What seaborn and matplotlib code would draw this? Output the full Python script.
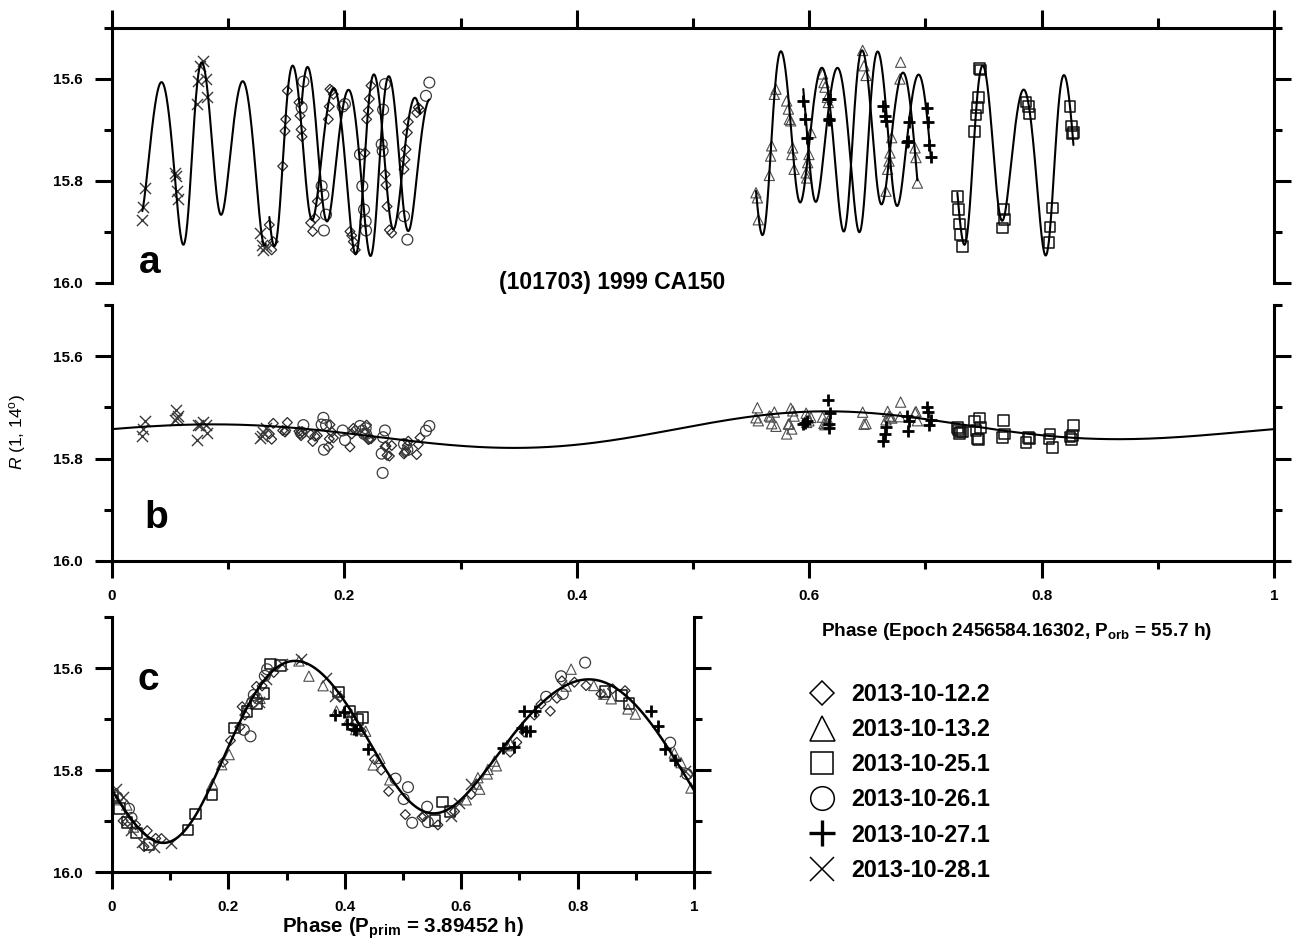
import numpy as np
import matplotlib
matplotlib.use("Agg")
import matplotlib.pyplot as plt
from matplotlib.lines import Line2D
import seaborn as sns

sns.set_theme(style="ticks")
plt.rcParams["font.family"] = ["Liberation Sans", "DejaVu Sans"]
plt.rcParams.update({
    "mathtext.fontset": "custom",
    "mathtext.rm": "Liberation Sans",
    "mathtext.it": "Liberation Sans:italic",
    "mathtext.bf": "Liberation Sans:bold",
    "axes.linewidth": 2.2,
    "axes.edgecolor": "black",
    "axes.labelcolor": "black",
    "text.color": "black",
    "xtick.color": "black",
    "ytick.color": "black",
    "xtick.labelcolor": "black",
    "ytick.labelcolor": "black",
})

# ---------------------------------------------------------------- constants
P_ORB = 55.7        # orbital period, h
P_PRIM = 3.89452    # primary rotation period, h
REF_MAG = 15.752    # level the two components are reduced to

nights = ["2013-10-12.2", "2013-10-13.2", "2013-10-25.1",
          "2013-10-26.1", "2013-10-27.1", "2013-10-28.1"]

# rotation phase of each night at orbital phase 0
rot_offset = [0.09, 0.082, 0.597, 0.907, 0.89, 0.21]

# ---------------------------------------------------------------- observations
# orbital phase and R(1, 14 deg) magnitude of every measurement, per night
phase_1012 = [0.1354, 0.1374, 0.1388, 0.1469, 0.1489, 0.1495, 0.1509, 0.1609, 0.1618, 0.1627,
              0.1635, 0.1710, 0.1727, 0.1747, 0.1767, 0.1862, 0.1870, 0.1876, 0.1891, 0.1905,
              0.2048, 0.2063, 0.2077, 0.2094, 0.2177, 0.2191, 0.2206, 0.2215, 0.2229, 0.2350,
              0.2358, 0.2367, 0.2387, 0.2407, 0.2513, 0.2521, 0.2530, 0.2542, 0.2550, 0.2622,
              0.2636, 0.2651]
mag_1012 = [15.886, 15.935, 15.919, 15.771, 15.702, 15.679, 15.623, 15.646, 15.672, 15.699,
            15.713, 15.882, 15.899, 15.873, 15.840, 15.679, 15.654, 15.620, 15.623, 15.630,
            15.899, 15.907, 15.919, 15.935, 15.745, 15.679, 15.662, 15.639, 15.613, 15.787,
            15.808, 15.850, 15.896, 15.902, 15.777, 15.758, 15.738, 15.705, 15.684, 15.666,
            15.656, 15.660]

phase_1013 = [0.5542, 0.5554, 0.5562, 0.5657, 0.5668, 0.5677, 0.5700, 0.5714, 0.5806, 0.5821,
              0.5829, 0.5841, 0.5858, 0.5850, 0.5870, 0.5974, 0.5978, 0.5987, 0.5998, 0.6015,
              0.6115, 0.6127, 0.6136, 0.6156, 0.6165, 0.6460, 0.6472, 0.6489, 0.6661, 0.6675,
              0.6687, 0.6695, 0.6710, 0.6787, 0.6781, 0.6911, 0.6919, 0.6931]
mag_1013 = [15.823, 15.833, 15.876, 15.789, 15.751, 15.731, 15.630, 15.620, 15.643, 15.659,
            15.679, 15.682, 15.735, 15.748, 15.777, 15.784, 15.794, 15.764, 15.748, 15.705,
            15.590, 15.607, 15.616, 15.636, 15.646, 15.544, 15.574, 15.593, 15.820, 15.777,
            15.761, 15.745, 15.715, 15.567, 15.600, 15.735, 15.754, 15.804]

phase_1025 = [0.7275, 0.7283, 0.7292, 0.7303, 0.7318, 0.7421, 0.7436, 0.7447, 0.7456, 0.7464,
              0.7476, 0.7662, 0.7671, 0.7680, 0.7866, 0.7886, 0.7895, 0.8064, 0.8073, 0.8093,
              0.8245, 0.8259, 0.8268, 0.8274]
mag_1025 = [15.830, 15.856, 15.884, 15.905, 15.928, 15.703, 15.671, 15.656, 15.636, 15.579,
            15.582, 15.892, 15.856, 15.875, 15.645, 15.654, 15.669, 15.921, 15.890, 15.853,
            15.654, 15.692, 15.708, 15.705]

phase_1026 = [0.1632, 0.1647, 0.1804, 0.1819, 0.1824, 0.1842, 0.1985, 0.2005, 0.2134, 0.2154,
              0.2169, 0.2183, 0.2186, 0.2321, 0.2329, 0.2333, 0.2349, 0.2513, 0.2542, 0.2702,
              0.2731]
mag_1026 = [15.656, 15.605, 15.810, 15.827, 15.897, 15.866, 15.654, 15.649, 15.748, 15.810,
            15.856, 15.879, 15.897, 15.728, 15.741, 15.660, 15.610, 15.869, 15.915, 15.633,
            15.607]

phase_1027 = [0.5949, 0.5964, 0.5978, 0.6165, 0.6179, 0.6173, 0.6168, 0.6638, 0.6652, 0.6661,
              0.6839, 0.6853, 0.6862, 0.7017, 0.7026, 0.7034, 0.7046]
mag_1027 = [15.643, 15.679, 15.715, 15.639, 15.639, 15.679, 15.680, 15.653, 15.672, 15.682,
            15.723, 15.722, 15.685, 15.656, 15.685, 15.730, 15.752]

phase_1028 = [0.0261, 0.0270, 0.0284, 0.0542, 0.0551, 0.0557, 0.0565, 0.0729, 0.0737, 0.0757,
              0.0780, 0.0809, 0.0820, 0.1274, 0.1288, 0.1302, 0.1323]
mag_1028 = [15.876, 15.851, 15.813, 15.784, 15.790, 15.820, 15.836, 15.649, 15.603, 15.574,
            15.564, 15.600, 15.636, 15.902, 15.925, 15.935, 15.928]

night_phase = [phase_1012, phase_1013, phase_1025, phase_1026, phase_1027, phase_1028]
night_mag = [mag_1012, mag_1013, mag_1025, mag_1026, mag_1027, mag_1028]

# ---------------------------------------------------------------- model curves
# primary rotational lightcurve, sampled over one rotation
rot_curve_phase = [0.002, 0.019, 0.037, 0.077, 0.117, 0.146, 0.163, 0.186, 0.208, 0.226,
                   0.243, 0.266, 0.289, 0.311, 0.335, 0.369, 0.403, 0.438, 0.478, 0.512,
                   0.545, 0.581, 0.615, 0.649, 0.684, 0.718, 0.753, 0.787, 0.804, 0.833,
                   0.867, 0.902, 0.936, 0.964, 0.996]
rot_curve_mag = [15.846, 15.875, 15.905, 15.935, 15.921, 15.892, 15.852, 15.787, 15.735, 15.689,
                 15.656, 15.617, 15.594, 15.586, 15.592, 15.620, 15.676, 15.731, 15.813, 15.859,
                 15.895, 15.872, 15.833, 15.790, 15.745, 15.695, 15.650, 15.627, 15.622, 15.627,
                 15.646, 15.676, 15.718, 15.767, 15.838]

# orbital lightcurve, sampled over one orbit
orb_curve_phase = [0.0, 0.076, 0.133, 0.19, 0.248, 0.30, 0.33, 0.40, 0.45, 0.50,
                   0.523, 0.56, 0.638, 0.695, 0.753, 0.81, 0.85, 0.90]
orb_curve_mag = [15.743, 15.732, 15.735, 15.750, 15.763, 15.775, 15.777, 15.772, 15.760, 15.737,
                 15.727, 15.712, 15.710, 15.722, 15.742, 15.754, 15.761, 15.762]


def fourier_basis(x, order):
    x = np.asarray(x, float)
    cols = [np.ones_like(x)]
    for k in range(1, order + 1):
        cols += [np.cos(2 * np.pi * k * x), np.sin(2 * np.pi * k * x)]
    return np.column_stack(cols)


def fourier_fit(x, y, order):
    coef, *_ = np.linalg.lstsq(fourier_basis(x, order), np.asarray(y, float), rcond=None)
    return lambda t: fourier_basis(t, order) @ coef


rot_model = fourier_fit(rot_curve_phase, rot_curve_mag, 5)
orb_model = fourier_fit(orb_curve_phase, orb_curve_mag, 3)
ratio = P_ORB / P_PRIM

# ---------------------------------------------------------------- styles
marker_kind = ["D", "^", "s", "o", "+", "x"]
marker_size = [5.0, 7.4, 7.6, 7.8, 9.0, 8.0]          # pt
marker_color = ["#2b2b2b", "#4d4d4d", "#111111", "#3a3a3a", "#000000", "#3a3a3a"]
marker_lw = [0.9, 0.8, 1.1, 0.9, 2.0, 1.0]
legend_size = [11.8, 18.0, 16.5, 17.0, 18.5, 17.0]

W, H = 1296, 943
fig = plt.figure(figsize=(W / 100, H / 100), dpi=100)
ax_a = fig.add_axes([112 / W, 1 - 283 / H, 1162 / W, 255 / H])
ax_b = fig.add_axes([112 / W, 1 - 561 / H, 1162 / W, 256 / H])
ax_c = fig.add_axes([112 / W, 1 - 872 / H, 582 / W, 255 / H])


def draw_points(ax, x, y, i):
    kw = dict(x=np.asarray(x), y=np.asarray(y), marker=marker_kind[i],
              s=marker_size[i] ** 2, ax=ax, legend=False, zorder=2)
    if marker_kind[i] in ("+", "x"):
        sns.scatterplot(color=marker_color[i], linewidth=marker_lw[i], **kw)
    else:
        sns.scatterplot(facecolor="none", edgecolor=marker_color[i],
                        linewidth=marker_lw[i], **kw)


for i in range(len(nights)):
    phi = np.asarray(night_phase[i])
    mag = np.asarray(night_mag[i])
    psi = (phi * ratio + rot_offset[i]) % 1.0

    # panel a: observed magnitudes with combined model for the night
    draw_points(ax_a, phi, mag, i)
    grid = np.linspace(phi.min(), phi.max(), 500)
    combined = orb_model(grid) + rot_model((grid * ratio + rot_offset[i]) % 1.0) - REF_MAG
    sns.lineplot(x=grid, y=combined, ax=ax_a, color="black", linewidth=1.5,
                 estimator=None, sort=False, zorder=3)

    # panel b: rotational component removed
    draw_points(ax_b, phi, mag - rot_model(psi) + REF_MAG, i)

    # panel c: orbital component removed, folded with the rotation period
    draw_points(ax_c, psi, mag - orb_model(phi) + REF_MAG, i)

orb_grid = np.linspace(0, 1, 400)
sns.lineplot(x=orb_grid, y=orb_model(orb_grid), ax=ax_b, color="black", linewidth=1.5,
             estimator=None, sort=False, zorder=3)
rot_grid = np.linspace(0, 1, 400)
sns.lineplot(x=rot_grid, y=rot_model(rot_grid), ax=ax_c, color="black", linewidth=1.8,
             estimator=None, sort=False, zorder=3)

# ---------------------------------------------------------------- axes
y_major = [15.6, 15.8, 16.0]
y_minor = [15.5, 15.7, 15.9]
x_major = [0, 0.2, 0.4, 0.6, 0.8, 1.0]
x_minor = [0.1, 0.3, 0.5, 0.7, 0.9]
x_labels = ["0", "0.2", "0.4", "0.6", "0.8", "1"]

for ax in (ax_a, ax_b, ax_c):
    ax.set_xlim(0, 1)
    ax.set_ylim(16.0, 15.5)
    ax.set_xlabel("")
    ax.set_ylabel("")
    ax.set_yticks(y_major, labels=[f"{v:.1f}" for v in y_major],
                  fontsize=11, fontweight="bold", color="black")
    ax.set_yticks(y_minor, minor=True)
    ax.tick_params(axis="y", which="both", left=True, right=True, labelleft=True,
                   labelright=False, direction="out", width=2.2, pad=9)
    ax.tick_params(axis="y", which="major", length=12)
    ax.tick_params(axis="y", which="minor", length=6)
    ax.set_xticks(x_minor, minor=True)
    for s in ax.spines.values():
        s.set_linewidth(2.2)
        s.set_color("black")

# panel a: open bottom, ticks along the top
ax_a.spines["bottom"].set_visible(False)
ax_a.set_xticks(x_major)
ax_a.tick_params(axis="x", which="both", top=True, bottom=False, labeltop=False,
                 labelbottom=False, direction="out", width=2.2)
ax_a.tick_params(axis="x", which="major", length=13)
ax_a.tick_params(axis="x", which="minor", length=7)

for ax in (ax_b, ax_c):
    ax.spines["top"].set_visible(False)
    ax.set_xticks(x_major, labels=x_labels, fontsize=11, fontweight="bold", color="black")
    ax.tick_params(axis="x", which="both", top=False, bottom=True, direction="out",
                   width=2.2, pad=8)
    ax.tick_params(axis="x", which="major", length=12)
    ax.tick_params(axis="x", which="minor", length=6)

ax_c.set_xlabel(r"Phase (P$_{\bf prim}$ = 3.89452 h)", fontsize=14.8,
                fontweight="bold", labelpad=1, color="black")

# ---------------------------------------------------------------- text
fig.text(612 / W, 1 - 283 / H, "(101703) 1999 CA150", ha="center", va="center",
         fontsize=16.5, fontweight="bold", color="black")
fig.text(1017 / W, 1 - 632 / H, r"Phase (Epoch 2456584.16302, P$_{\bf orb}$ = 55.7 h)",
         ha="center", va="center", fontsize=13.7, fontweight="bold", color="black")
fig.text(18 / W, 1 - 432 / H, r"$\it{R}$ (1, 14$^{\rm o}$)", rotation=90,
         ha="center", va="center", fontsize=12.5, color="black")
for letter, (lx, ly) in zip("abc", [(150, 263), (156, 518), (148, 680)]):
    fig.text(lx / W, 1 - ly / H, letter, ha="center", va="center",
             fontsize=28, fontweight="bold", color="black")

handles = [Line2D([], [], linestyle="none", marker=marker_kind[i], markersize=legend_size[i],
                  markerfacecolor="none", markeredgecolor="black",
                  markeredgewidth=2.4 if marker_kind[i] == "+" else 1.1)
           for i in range(len(nights))]
fig.legend(handles, nights, loc="upper left", bbox_to_anchor=(805 / W, 1 - 683 / H),
           frameon=False, prop={"weight": "bold", "size": 16.8}, labelspacing=0.52,
           handlelength=1.45, handletextpad=0.55, borderpad=0, borderaxespad=0,
           labelcolor="black")

fig.savefig("out.png", dpi=100)
